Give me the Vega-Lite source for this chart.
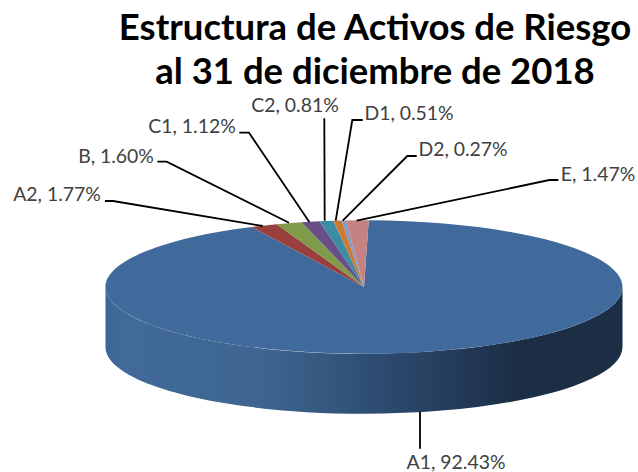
{
  "$schema": "https://vega.github.io/schema/vega-lite/v6.json",
  "width": 548,
  "height": 370,
  "autosize": "none",
  "padding": {"left": 90, "top": 102, "right": 0, "bottom": 0},
  "background": "white",
  "title": {
    "text": ["Estructura de Activos de Riesgo", "al 31 de diciembre de 2018"],
    "font": "Lato",
    "fontWeight": "bold",
    "fontSize": 36.5,
    "lineHeight": 44,
    "color": "black",
    "anchor": "middle",
    "dx": 11,
    "offset": 5
  },
  "config": {"view": {"stroke": null}},
  "data": {
    "values": [
      {"segment": "A1", "pct": 92.43, "label": "A1, 92.43%"},
      {"segment": "A2", "pct": 1.77, "label": "A2, 1.77%"},
      {"segment": "B", "pct": 1.60, "label": "B, 1.60%"},
      {"segment": "C1", "pct": 1.12, "label": "C1, 1.12%"},
      {"segment": "C2", "pct": 0.81, "label": "C2, 0.81%"},
      {"segment": "D1", "pct": 0.51, "label": "D1, 0.51%"},
      {"segment": "D2", "pct": 0.27, "label": "D2, 0.27%"},
      {"segment": "E", "pct": 1.47, "label": "E, 1.47%"}
    ]
  },
  "layer": [
    {
      "transform": [{"filter": "datum.segment === 'A1'"}],
      "mark": {
        "type": "point",
        "filled": true,
        "opacity": 1,
        "size": 4,
        "shape": "M-258.5 0A258.5 66.7 0 0 0 258.5 0L258.5 60A258.5 66.7 0 0 1 -258.5 60Z",
        "fill": {
          "gradient": "linear",
          "x1": 0, "y1": 0, "x2": 1, "y2": 0,
          "stops": [
            {"offset": 0, "color": "#3d6595"},
            {"offset": 0.04, "color": "#41699a"},
            {"offset": 0.3, "color": "#3e6690"},
            {"offset": 0.5, "color": "#2f4f75"},
            {"offset": 0.65, "color": "#253e5d"},
            {"offset": 0.8, "color": "#1b2e45"},
            {"offset": 1, "color": "#1b2e45"}
          ]
        }
      }
    },
    {
      "mark": {"type": "point", "filled": true, "opacity": 1, "size": 4},
      "encoding": {
        "shape": {
          "field": "segment",
          "type": "nominal",
          "legend": null,
          "scale": {
            "domain": ["A1", "A2", "B", "C1", "C2", "D1", "D2", "E"],
            "range": [
              "M0 0L4.7 -66.69A258.5 66.7 0 1 1 -112.3 -60.08Z",
              "M0 0L-112.3 -60.08A258.5 66.7 0 0 1 -87.3 -62.78Z",
              "M0 0L-87.3 -62.78A258.5 66.7 0 0 1 -62.3 -64.73Z",
              "M0 0L-62.3 -64.73A258.5 66.7 0 0 1 -44.7 -65.7Z",
              "M0 0L-44.7 -65.7A258.5 66.7 0 0 1 -30.7 -66.23Z",
              "M0 0L-30.7 -66.23A258.5 66.7 0 0 1 -22.3 -66.45Z",
              "M0 0L-22.3 -66.45A258.5 66.7 0 0 1 -18.3 -66.53Z",
              "M0 0L-18.3 -66.53A258.5 66.7 0 0 1 4.7 -66.69Z"
            ]
          }
        },
        "fill": {
          "field": "segment",
          "type": "nominal",
          "legend": null,
          "scale": {
            "domain": ["A1", "A2", "B", "C1", "C2", "D1", "D2", "E"],
            "range": ["#3f6a9b", "#9b3f3e", "#7f9a48", "#694f88", "#3c8ca6", "#cc7b35", "#8199c3", "#c48282"]
          }
        }
      }
    },
    {
      "mark": {"type": "point", "filled": false, "opacity": 1, "size": 4, "stroke": "black", "strokeWidth": 1.8, "fill": "transparent"},
      "encoding": {
        "shape": {
          "field": "segment",
          "type": "nominal",
          "legend": null,
          "scale": {
            "domain": ["A1", "A2", "B", "C1", "C2", "D1", "D2", "E"],
            "range": [
              "M56 124.7L56 161.7",
              "M-259 -86L-251 -86L-101.3 -61",
              "M-206.7 -125.3L-197.3 -125.3L-75 -64.3",
              "M-124.7 -154.3L-115 -154.3L-54.7 -65",
              "M-39.7 -168.7L-39.3 -66.3",
              "M-1.3 -167L-11.7 -167L-28.3 -66.3",
              "M52.7 -131L43.3 -131L-21.3 -66.3",
              "M194.3 -107L185.3 -107L-7.3 -66.3"
            ]
          }
        }
      }
    },
    {
      "mark": {"type": "text", "font": "Lato", "fontSize": 19.4, "color": "#404040", "align": "center", "baseline": "middle"},
      "encoding": {
        "text": {"field": "label", "type": "nominal"},
        "x": {
          "field": "pct",
          "type": "quantitative",
          "axis": null,
          "scale": {
            "domain": [0.27, 0.51, 0.81, 1.12, 1.47, 1.60, 1.77, 92.43],
            "range": [373, 319, 205, 102, 508, 26, -33, 366]
          }
        },
        "y": {
          "field": "pct",
          "type": "quantitative",
          "axis": null,
          "scale": {
            "domain": [0.27, 0.51, 0.81, 1.12, 1.47, 1.60, 1.77, 92.43],
            "range": [48, 12, 4, 25, 73, 55, 93, 361]
          }
        }
      }
    }
  ],
  "resolve": {"scale": {"shape": "independent"}}
}
